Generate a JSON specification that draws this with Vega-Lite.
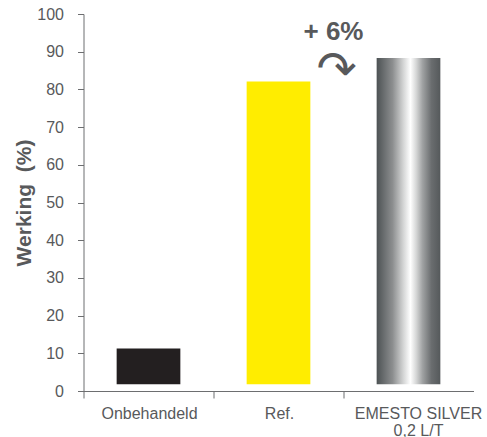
{
  "$schema": "https://vega.github.io/schema/vega-lite/v6.json",
  "width": 390,
  "height": 377,
  "autosize": {"type": "none"},
  "padding": {"left": 83.5, "top": 14, "right": 13.5, "bottom": 46},
  "background": "white",
  "config": {
    "view": {"stroke": null},
    "font": "Liberation Sans",
    "axis": {"grid": false}
  },
  "data": {
    "values": [
      {"cat": "Onbehandeld", "werking": 11.3},
      {"cat": "Ref.", "werking": 82.1},
      {"cat": "EMESTO SILVER|0,2 L/T", "werking": 88.3, "toename": "+ 6%", "pijl": "↷"}
    ]
  },
  "encoding": {
    "x": {
      "field": "cat",
      "type": "nominal",
      "sort": null,
      "scale": {"domain": ["Onbehandeld", "Ref.", "EMESTO SILVER|0,2 L/T"], "paddingInner": 0, "paddingOuter": 0},
      "axis": {
        "title": null,
        "bandPosition": 0,
        "labelAngle": 0,
        "labelExpr": "split(datum.label, '|')",
        "labelOffset": {"condition": {"test": "indexof(datum.value, 'EMESTO') >= 0", "value": 10}, "value": 1},
        "labelFontSize": 16,
        "labelLineHeight": 17,
        "labelColor": "#58595b",
        "labelPadding": 7,
        "labelOverlap": false,
        "labelBound": false,
        "labelFlush": false,
        "labelLimit": 0,
        "tickSize": 7,
        "tickColor": "#6d6e70",
        "domainColor": "#6d6e70"
      }
    },
    "y": {
      "field": "werking",
      "type": "quantitative",
      "scale": {"domain": [0, 100], "nice": false},
      "axis": {
        "title": "Werking\u00a0 (%)",
        "titleFontSize": 21,
        "titleFontWeight": "bold",
        "titleColor": "#58595b",
        "titlePadding": 2,
        "values": [0, 10, 20, 30, 40, 50, 60, 70, 80, 90, 100],
        "labelFontSize": 16,
        "labelColor": "#58595b",
        "labelPadding": 14,
        "labelOverlap": false,
        "tickSize": 6,
        "tickColor": "#6d6e70",
        "domainColor": "#6d6e70"
      }
    }
  },
  "layer": [
    {
      "transform": [{"filter": "indexof(datum.cat, 'EMESTO') < 0"}],
      "mark": {"type": "bar", "width": {"band": 0.49}},
      "encoding": {
        "y2": {"datum": 1.8},
        "color": {
          "field": "cat",
          "type": "nominal",
          "scale": {"domain": ["Onbehandeld", "Ref."], "range": ["#231f20", "#ffed00"]},
          "legend": null
        }
      }
    },
    {
      "transform": [{"filter": "indexof(datum.cat, 'EMESTO') >= 0"}],
      "mark": {
        "type": "bar",
        "width": {"band": 0.49},
        "fill": {
          "gradient": "linear",
          "x1": 0, "y1": 0, "x2": 1, "y2": 0,
          "stops": [
            {"offset": 0, "color": "#4d5254"},
            {"offset": 0.25, "color": "#8c8e8f"},
            {"offset": 0.42, "color": "#d4d5d5"},
            {"offset": 0.53, "color": "#ffffff"},
            {"offset": 0.62, "color": "#d6d7d7"},
            {"offset": 0.72, "color": "#a0a2a3"},
            {"offset": 0.86, "color": "#6a6d6f"},
            {"offset": 1, "color": "#55595b"}
          ]
        }
      },
      "encoding": {"y2": {"datum": 1.8}}
    },
    {
      "transform": [{"filter": "indexof(datum.cat, 'EMESTO') >= 0"}],
      "mark": {"type": "text", "fontSize": 26, "fontWeight": "bold", "color": "#58595b", "align": "center", "baseline": "middle", "dx": -75, "dy": -26},
      "encoding": {"text": {"field": "toename"}}
    },
    {
      "transform": [{"filter": "indexof(datum.cat, 'EMESTO') >= 0"}],
      "mark": {"type": "text", "font": "DejaVu Sans", "fontSize": 48, "color": "#58595b", "align": "center", "baseline": "middle", "dx": -72, "dy": 13},
      "encoding": {"text": {"field": "pijl"}}
    }
  ]
}
